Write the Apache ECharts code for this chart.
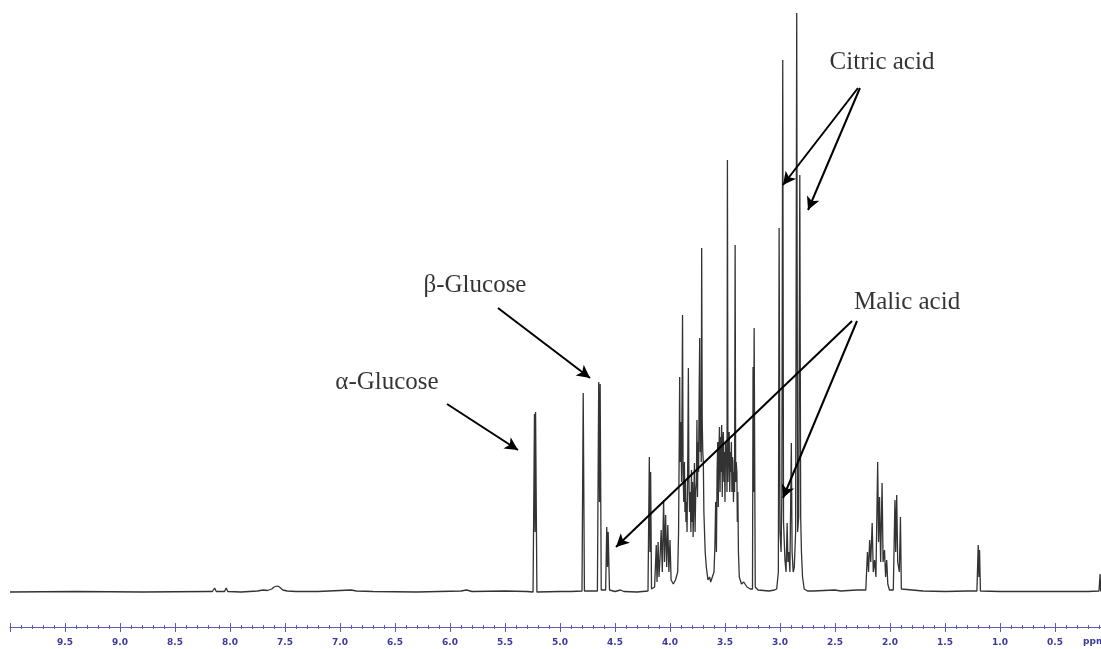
<!DOCTYPE html>
<html>
<head>
<meta charset="utf-8">
<title>1H NMR spectrum</title>
<script src="https://cdn.jsdelivr.net/npm/echarts@6/dist/echarts.min.js"></script>
<style>
  html, body { margin: 0; padding: 0; background: #ffffff; }
  #chart { width: 1101px; height: 649px; }
</style>
</head>
<body>
<div id="chart"></div>
<script>
// Spectrum traces, [chemical shift (ppm), intensity (a.u.)], in descending ppm order.
const aromaticRegion = [
  [10.0, 0], [9.4, 0.5], [8.8, 0], [8.2, 0.5],
  [8.16, 0.5], [8.14, 4], [8.125, 0.5], [8.05, 0.5], [8.035, 4], [8.02, 0.5],
  [7.9, 0], [7.75, 1], [7.7, 2], [7.66, 1.5], [7.62, 3], [7.6, 5], [7.57, 6],
  [7.55, 5], [7.52, 2], [7.48, 1], [7.4, 0.5], [7.2, 0.5], [7.0, 1.5], [6.9, 2],
  [6.85, 1], [6.7, 0.5], [6.3, 0], [5.9, 1], [5.85, 2], [5.8, 0.5], [5.5, 1], [5.3, 0.5]
];

const glucoseRegion = [
  [5.245, 0], [5.232, 178], [5.227, 60], [5.222, 180], [5.21, 0],
  [5.0, 0.5], [4.9, 0.5], [4.8, 1], [4.789, 199], [4.778, 1],
  [4.66, 1], [4.648, 210], [4.641, 90], [4.635, 208], [4.625, 2],
  [4.585, 2], [4.575, 65], [4.568, 25], [4.562, 60], [4.55, 2],
  [4.5, 0.5], [4.45, 2], [4.42, 0.5], [4.3, 0], [4.2, 1]
];

const sugarRegion = [
  [4.195, 2], [4.188, 135], [4.182, 40], [4.176, 120], [4.168, 3],
  [4.14, 5], [4.125, 47], [4.118, 10], [4.108, 50], [4.1, 15], [4.09, 35],
  [4.08, 62], [4.07, 20], [4.058, 92], [4.05, 30], [4.04, 77], [4.03, 25],
  [4.02, 67], [4.01, 20], [4.0, 52], [3.99, 12], [3.97, 8], [3.95, 12],
  [3.93, 20], [3.922, 60], [3.916, 150], [3.912, 215], [3.908, 130], [3.9, 170],
  [3.895, 110], [3.89, 200], [3.886, 277], [3.881, 120], [3.875, 90], [3.869, 130],
  [3.864, 80], [3.86, 112], [3.855, 70], [3.85, 90], [3.845, 60], [3.838, 140],
  [3.833, 224], [3.828, 110], [3.822, 80], [3.816, 100], [3.81, 60], [3.805, 122],
  [3.8, 70], [3.795, 110], [3.79, 55], [3.784, 90], [3.778, 129], [3.772, 60],
  [3.766, 100], [3.76, 110], [3.755, 172], [3.75, 95], [3.745, 150], [3.74, 120],
  [3.735, 200], [3.73, 254], [3.725, 140], [3.72, 180], [3.716, 130], [3.712, 344],
  [3.707, 170], [3.702, 140], [3.697, 130], [3.692, 80], [3.686, 60], [3.68, 40],
  [3.67, 25], [3.655, 12], [3.64, 15], [3.63, 10],
  [3.6, 20], [3.592, 45], [3.585, 90], [3.578, 40], [3.572, 120], [3.566, 150],
  [3.561, 85], [3.556, 140], [3.55, 165], [3.545, 100], [3.54, 155], [3.535, 120],
  [3.53, 167], [3.525, 95], [3.52, 150], [3.515, 160], [3.51, 110], [3.505, 140],
  [3.5, 90], [3.495, 150], [3.49, 125], [3.486, 140], [3.482, 100], [3.478, 432],
  [3.473, 110], [3.468, 150], [3.462, 160], [3.457, 100], [3.452, 140], [3.447, 120],
  [3.442, 150], [3.437, 100], [3.432, 135], [3.428, 130], [3.423, 90], [3.418, 120],
  [3.413, 100], [3.408, 347], [3.403, 110], [3.398, 130], [3.392, 120], [3.388, 70],
  [3.383, 100], [3.378, 40], [3.37, 15], [3.35, 8], [3.33, 10], [3.3, 5], [3.27, 3],
  [3.25, 3], [3.245, 225], [3.24, 100], [3.235, 264], [3.225, 5], [3.2, 2],
  [3.1, 1], [3.05, 2]
];

const acidRegion = [
  [3.03, 3], [3.015, 20], [3.008, 364], [3.0, 60], [2.99, 40], [2.983, 100],
  [2.975, 532], [2.968, 70], [2.955, 32], [2.945, 20], [2.935, 69], [2.928, 30],
  [2.92, 40], [2.91, 20], [2.897, 149], [2.89, 40], [2.88, 20], [2.87, 25],
  [2.858, 60], [2.848, 579], [2.84, 60], [2.83, 75], [2.82, 417], [2.812, 75],
  [2.805, 40], [2.795, 15], [2.78, 3], [2.75, 1]
];

const aliphaticRegion = [
  [2.7, 1], [2.5, 2], [2.45, 1], [2.3, 2], [2.22, 2], [2.205, 40], [2.195, 20],
  [2.185, 52], [2.175, 30], [2.162, 69], [2.152, 20], [2.14, 32], [2.128, 15],
  [2.112, 130], [2.104, 50], [2.095, 95], [2.085, 30], [2.072, 109], [2.063, 30],
  [2.05, 42], [2.04, 15], [2.03, 32], [2.02, 8], [2.005, 2], [1.97, 2],
  [1.955, 92], [1.948, 40], [1.939, 97], [1.93, 30], [1.915, 20], [1.905, 75],
  [1.897, 3], [1.89, 1], [1.7, 1], [1.5, 0.5], [1.3, 1], [1.21, 1],
  [1.198, 47], [1.192, 15], [1.186, 42], [1.178, 1], [1.0, 0.5], [0.5, 0.5],
  [0.2, 0.5], [0.1, 1], [0.09, 18], [0.085, 1], [0.0, 0]
];

// Compound labels: [ppm, intensity] of the text centre.
const compoundLabels = [
  { name: 'α-Glucose', at: [6.573, 210] },
  { name: 'β-Glucose', at: [5.773, 307] },
  { name: 'Citric acid', at: [2.073, 530] },
  { name: 'Malic acid', at: [1.845, 290] }
];

// Arrows from each label to its resonances: [tail, head] in [ppm, intensity].
const compoundArrows = [
  [[6.027, 188], [5.382, 142]],
  [[5.564, 284], [4.727, 214]],
  [[2.291, 504], [2.973, 407]],
  [[2.273, 504], [2.745, 382]],
  [[2.345, 271], [4.491, 45]],
  [[2.300, 271], [2.973, 94]]
];

const spectrum = [].concat(aromaticRegion, glucoseRegion, sugarRegion, acidRegion, aliphaticRegion);

const axisBlue = '#5b5bb0';
const labelBlue = '#3a3a9c';

const chart = echarts.init(document.getElementById('chart'), null, { renderer: 'canvas' });

const ppmAxisBase = {
  type: 'value',
  inverse: true,
  min: 0,
  max: 10,
  interval: 0.5,
  position: 'bottom',
  splitLine: { show: false }
};

chart.setOption({
  animation: false,
  backgroundColor: '#ffffff',
  grid: { left: 10, right: -9, top: 0, bottom: 22, containLabel: false, outerBoundsMode: 'none' },
  xAxis: [
    Object.assign({}, ppmAxisBase, {
      axisLine: { show: true, onZero: false, lineStyle: { color: axisBlue, width: 1 } },
      axisTick: { show: true, inside: false, length: 5, lineStyle: { color: axisBlue } },
      minorTick: { show: true, splitNumber: 5, length: 2, lineStyle: { color: axisBlue } },
      axisLabel: {
        margin: 11,
        color: labelBlue,
        fontSize: 9,
        fontWeight: 'bold',
        fontFamily: 'DejaVu Sans',
        formatter: function (v) {
          if (v <= 0.001 || v >= 9.999) return '';
          return v.toFixed(1);
        }
      }
    }),
    Object.assign({}, ppmAxisBase, {
      axisLine: { show: false, onZero: false },
      axisTick: { show: true, inside: true, length: 4, lineStyle: { color: axisBlue } },
      minorTick: { show: true, splitNumber: 5, length: 2, lineStyle: { color: axisBlue } },
      axisLabel: { show: false }
    })
  ],
  yAxis: {
    type: 'value',
    min: -35,
    max: 592,
    show: false
  },
  graphic: [
    {
      type: 'text',
      left: 1083,
      top: 637,
      style: {
        text: 'ppm',
        fill: labelBlue,
        font: 'bold 9px "DejaVu Sans"'
      }
    }
  ],
  series: [
    {
      type: 'line',
      name: 'spectrum',
      data: spectrum,
      showSymbol: false,
      symbol: 'none',
      smooth: false,
      lineStyle: { color: '#333333', width: 1.3 },
      silent: true,
      markLine: {
        silent: true,
        symbol: ['none', 'arrow'],
        symbolSize: [10, 13],
        label: { show: false },
        lineStyle: { color: '#000000', width: 2, type: 'solid' },
        data: compoundArrows.map(function (a) {
          return [{ coord: a[0] }, { coord: a[1] }];
        })
      }
    },
    {
      type: 'scatter',
      name: 'labels',
      silent: true,
      symbolSize: 1,
      itemStyle: { color: 'rgba(0,0,0,0)' },
      label: {
        show: true,
        position: 'inside',
        formatter: '{b}',
        fontFamily: '"Liberation Serif", "DejaVu Serif", serif',
        fontSize: 25,
        color: '#000000'
      },
      data: compoundLabels.map(function (c) {
        return { name: c.name, value: c.at };
      })
    }
  ]
});
</script>
</body>
</html>
